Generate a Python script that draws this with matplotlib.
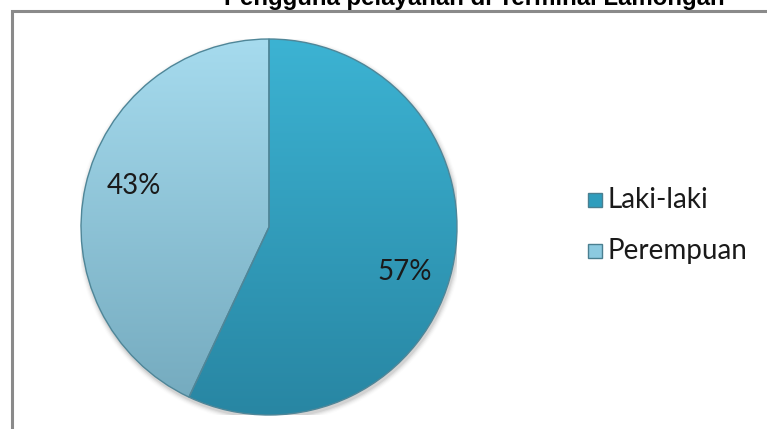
import numpy as np
import matplotlib
matplotlib.use("Agg")
import matplotlib.pyplot as plt
from matplotlib.patches import Rectangle
from matplotlib.colors import LinearSegmentedColormap

title = "Pengguna pelayanan di Terminal Lamongan"
labels = ["Laki-laki", "Perempuan"]
values = [57, 43]
pct_text = ["57%", "43%"]
# top / bottom shade of each slice
top_cols = ["#3cb3d3", "#a6dbee"]
bot_cols = ["#2886a3", "#73a9bd"]
mid_cols = ["#2f9dbd", "#8ccae0"]

W, H = 767, 429
fig = plt.figure(figsize=(W / 100, H / 100), dpi=100)
fig.patch.set_facecolor("white")

# chart frame (cut off at right and bottom)
fig.patches.append(Rectangle((12 / W, -0.1), 1.2, (H - 11) / H + 0.1,
                             transform=fig.transFigure, fill=False,
                             edgecolor="#8a8a8a", lw=2.2))

fig.text(474 / W, (H - 5) / H, title, ha="center", va="baseline",
         fontsize=17.3, fontweight="bold", family="Liberation Sans")

cx, cy, r = 269, 227, 188
ax = fig.add_axes([(cx - r) / W, (H - cy - r) / H, 2 * r / W, 2 * r / H])

# soft shadow
for k, a in enumerate(np.linspace(0.06, 0.01, 5)):
    ax.add_patch(plt.Circle((0.006, -0.014), 1.0 + 0.006 * (k + 1),
                            color="black", alpha=a, lw=0))

wedges, _ = ax.pie(values, startangle=90, counterclock=False, radius=1,
                   wedgeprops=dict(linewidth=1.0, edgecolor="#4f8698"))

grad = np.linspace(1, 0, 256).reshape(-1, 1)
for w, tc, bc in zip(wedges, top_cols, bot_cols):
    cmap = LinearSegmentedColormap.from_list("g", [bc, tc])
    w.set_facecolor("none")
    im = ax.imshow(grad, cmap=cmap, extent=(-1, 1, -1, 1), origin="upper",
                   aspect="auto", zorder=1)
    im.set_clip_path(w)
    w.set_zorder(2)

ax.set_xlim(-1, 1)
ax.set_ylim(-1, 1)
ax.set_aspect("equal")
ax.axis("off")

ax.text(0.72, -0.24, pct_text[0], ha="center", va="center", fontsize=20,
        family="Lato", color="#1a1a1a", zorder=3)
ax.text(-0.72, 0.22, pct_text[1], ha="center", va="center", fontsize=20,
        family="Lato", color="#1a1a1a", zorder=3)

# legend
leg_y = [200, 251]
for lab, c, yy in zip(labels, mid_cols, leg_y):
    fig.patches.append(Rectangle((588 / W, (H - yy - 7) / H), 14 / W, 14 / H,
                                 transform=fig.transFigure, facecolor=c,
                                 edgecolor="#4a7f90", lw=1))
    fig.text(608 / W, (H - yy) / H, lab, ha="left", va="center",
             fontsize=20, family="Lato", color="#1a1a1a")

fig.savefig("out.png", dpi=100)
